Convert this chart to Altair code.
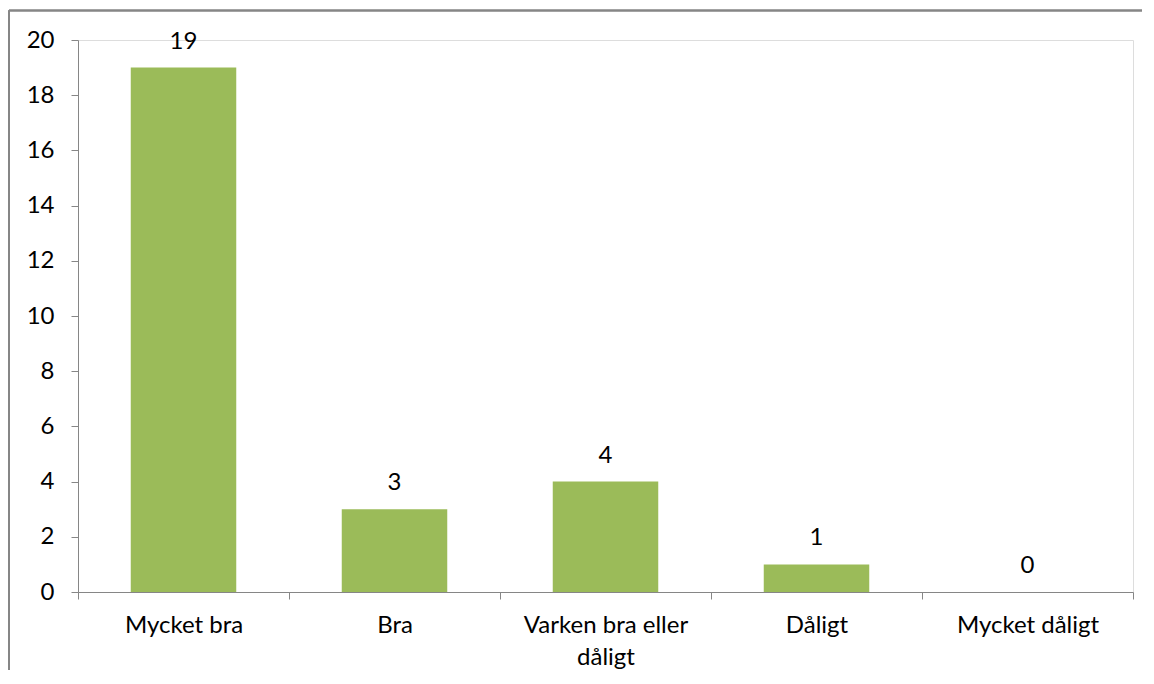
import altair as alt
import pandas as pd

categories = ["Mycket bra", "Bra", "Varken bra eller\ndåligt", "Dåligt", "Mycket dåligt"]
values = [19, 3, 4, 1, 0]
y_ticks = [0, 2, 4, 6, 8, 10, 12, 14, 16, 18, 20]

df = pd.DataFrame({"kategori": categories, "antal": values})

FONT = "Lato"
FS = 24
BAR = "#9BBB59"
AX = "#868686"

x_enc = alt.X(
    "kategori:N",
    sort=categories,
    scale=alt.Scale(paddingInner=0, paddingOuter=0),
    axis=alt.Axis(
        title=None,
        labelAngle=0,
        labelExpr="split(datum.label, '\\n')",
        labelLineHeight=32,
        labelPadding=14,
        labelFont=FONT,
        labelFontSize=FS,
        labelColor="#000000",
        tickBand="extent",
        tickSize=7,
        tickColor=AX,
        domainColor=AX,
        grid=False,
        labelBaseline="top",
    ),
)
y_enc = alt.Y(
    "antal:Q",
    scale=alt.Scale(domain=[0, 20], nice=False),
    axis=alt.Axis(
        title=None,
        values=y_ticks,
        tickSize=7,
        tickColor=AX,
        domainColor=AX,
        grid=False,
        labelPadding=17,
        labelFont=FONT,
        labelFontSize=FS,
        labelColor="#000000",
    ),
)

bars = alt.Chart(df).mark_bar(color=BAR, width=alt.RelativeBandSize(0.5)).encode(x=x_enc, y=y_enc)
labels = alt.Chart(df).mark_text(
    font=FONT, fontSize=FS, color="#000000", baseline="alphabetic", dy=-19
).encode(x=alt.X("kategori:N", sort=categories), y="antal:Q", text="antal:Q")

frame_left = alt.Chart(df).mark_rule(stroke=AX, strokeWidth=1.5, clip=False).encode(
    x=alt.value(-69), y=alt.value(-29.5), y2=alt.value(700)
)
frame_top = alt.Chart(df).mark_rule(stroke=AX, strokeWidth=1.5, clip=False).encode(
    x=alt.value(-69), x2=alt.value(1064), y=alt.value(-29.5)
)

chart = alt.layer(frame_left, frame_top, bars, labels).properties(
    width=1055,
    height=552,
    autosize=alt.AutoSizeParams(type="none"),
    padding={"left": 70, "top": 32, "right": 10, "bottom": 78},
).configure_view(stroke=None).configure(background="#ffffff")

chart.save("out.html", embed_options={"renderer": "svg", "actions": False})
